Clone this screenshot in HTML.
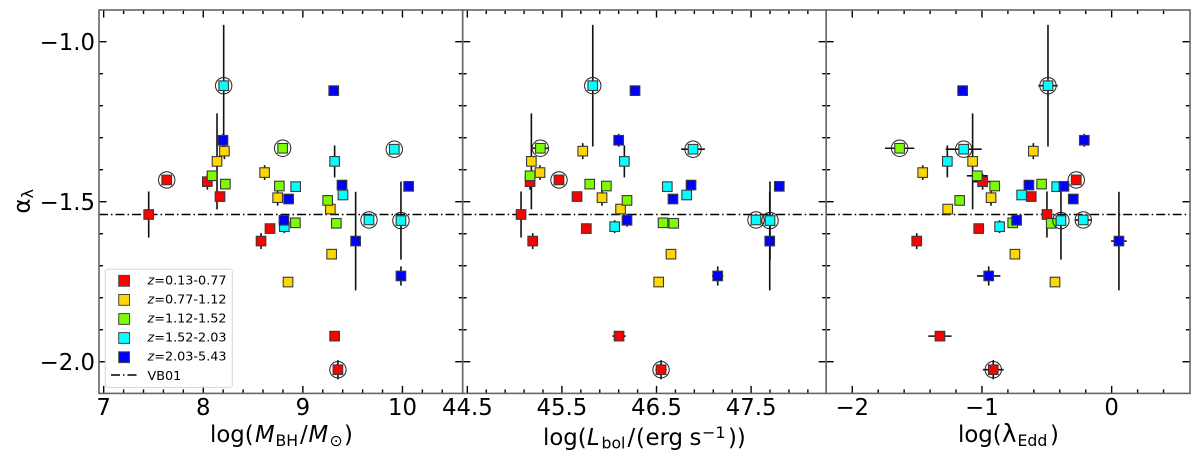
<!DOCTYPE html>
<html lang="en">
<head>
<meta charset="utf-8">
<title>Alpha lambda versus black hole mass, bolometric luminosity and Eddington ratio</title>
<style>
html,body{margin:0;padding:0;background:#fff;width:1200px;height:467px;overflow:hidden}
svg{display:block;filter:blur(0.35px)}
text{font-family:"DejaVu Sans","Liberation Sans",sans-serif;fill:#000}
</style>
</head>
<body>
<svg id="chart" xmlns="http://www.w3.org/2000/svg" width="1200" height="467" viewBox="0 0 1200 467">
  <rect x="0" y="0" width="1200" height="467" fill="#fff"/>
  <g id="marks"></g>
  <g id="axes"></g>

  <text transform="translate(29.5,213.5) rotate(-90)" font-size="22.8">α<tspan font-size="16" dy="3.5">λ</tspan></text>
  <text font-size="22.8"><tspan x="210" y="442">log(</tspan><tspan x="255" y="442" font-style="italic">M</tspan><tspan x="275.5" y="446" font-size="15.7">BH</tspan><tspan x="300" y="442">/</tspan><tspan x="308.5" y="442" font-style="italic">M</tspan><tspan x="329.5" y="446" font-size="15.7">⊙</tspan><tspan x="344" y="442">)</tspan></text>
  <text font-size="22.8"><tspan x="543" y="445">log(</tspan><tspan x="587" y="445" font-style="italic">L</tspan><tspan x="601.5" y="448.5" font-size="15.7">bol</tspan><tspan x="627.5" y="445">/</tspan><tspan x="636" y="445">(</tspan><tspan x="645.5" y="445">erg</tspan><tspan x="689.5" y="445">s</tspan><tspan x="702" y="437.8" font-size="16">−1</tspan><tspan x="728" y="445">))</tspan></text>
  <text font-size="22.8"><tspan x="958" y="442">log(</tspan><tspan x="1002" y="442" font-size="24.5">λ</tspan><tspan x="1017.5" y="446" font-size="15.7">Edd</tspan><tspan x="1050" y="442">)</tspan></text>

  <g>
    <rect x="105.3" y="269.2" width="127" height="118.2" rx="2.5" fill="#fff" fill-opacity="0.8" stroke="#d6d6d6" stroke-width="1"/>
    <g>
      <rect x="118.7" y="275.4" width="10.8" height="10.8" fill="#ff0000" stroke="#444" stroke-width="1"/>
      <text x="147.5" y="284.4" font-size="12.8"><tspan font-style="italic">z</tspan>=0.13-0.77</text>
    </g>
    <g>
      <rect x="118.7" y="294.5" width="10.8" height="10.8" fill="#ffd700" stroke="#444" stroke-width="1"/>
      <text x="147.5" y="303.4" font-size="12.8"><tspan font-style="italic">z</tspan>=0.77-1.12</text>
    </g>
    <g>
      <rect x="118.7" y="313.6" width="10.8" height="10.8" fill="#7cfc00" stroke="#444" stroke-width="1"/>
      <text x="147.5" y="322.5" font-size="12.8"><tspan font-style="italic">z</tspan>=1.12-1.52</text>
    </g>
    <g>
      <rect x="118.7" y="332.6" width="10.8" height="10.8" fill="#00ffff" stroke="#444" stroke-width="1"/>
      <text x="147.5" y="341.6" font-size="12.8"><tspan font-style="italic">z</tspan>=1.52-2.03</text>
    </g>
    <g>
      <rect x="118.7" y="351.8" width="10.8" height="10.8" fill="#0000ff" stroke="#444" stroke-width="1"/>
      <text x="147.5" y="360.7" font-size="12.8"><tspan font-style="italic">z</tspan>=2.03-5.43</text>
    </g>
    <g>
      <line x1="111" y1="375" x2="138" y2="375" stroke="#000" stroke-width="1.4" stroke-dasharray="9 3 1.5 3"/>
      <text x="147.5" y="380" font-size="12.8">VB01</text>
    </g>
  </g>
</svg>

<script>
// Reference value of the horizontal dash-dot line
const vb01Alpha = -1.54;

// Series index per point: 0 red, 1 yellow, 2 green, 3 cyan, 4 blue
const pointSeries = [0,0,0,0,0,0,0,0, 1,1,1,1,1,1,1, 2,2,2,2,2,2,2, 3,3,3,3,3,3,3,3, 4,4,4,4,4,4,4,4];
const alpha = [
  -1.432,-1.4375,-1.484,-1.54,-1.584,-1.623,-1.92,-2.025,
  -1.342,-1.374,-1.409,-1.4875,-1.523,-1.664,-1.751,
  -1.333,-1.419,-1.445,-1.451,-1.496,-1.566,-1.5675,
  -1.1375,-1.336,-1.374,-1.453,-1.559,-1.557,-1.479,-1.578,
  -1.153,-1.308,-1.448,-1.452,-1.4916,-1.558,-1.623,-1.732
];
const alphaErr = [
  0,0.025,0.012,0.072,0,0.025,0,0.03,
  0.025,0.15,0.023,0.025,0,0,0,
  0.005,0.01,0,0,0,0,0,
  0.19,0.015,0.05,0,0.122,0.01,0,0.02,
  0,0.02,0,0,0,0.02,0.154,0.03
];
const logMass = [
  7.633,8.041,8.168,7.452,8.67,8.58,9.319,9.352,
  8.212,8.138,8.616,8.747,9.276,9.289,8.851,
  8.797,8.088,8.222,8.764,9.249,8.925,9.336,
  8.205,9.918,9.319,8.928,9.985,9.664,9.403,8.814,
  9.31,8.198,9.393,10.062,8.857,8.81,9.53,9.985
];
const logMassErr = [
  0,0.03,0,0,0,0,0,0.02,
  0,0,0,0,0,0,0,
  0,0,0,0,0,0,0,
  0,0,0,0,0,0,0,0,
  0,0,0,0,0,0,0,0.02
];
const logLbol = [
  45.469,45.163,45.66,45.068,45.758,45.191,46.104,46.548,
  45.72,45.177,45.268,45.924,46.12,46.653,46.523,
  45.272,45.163,45.794,45.97,46.188,46.569,46.682,
  45.826,46.886,46.16,46.614,47.7,47.552,46.819,46.058,
  46.273,46.1,46.865,47.798,46.674,46.188,47.697,47.147
];
const logLbolErr = [
  0,0.02,0,0,0,0,0.07,0.06,
  0,0,0,0,0,0,0,
  0.08,0,0,0,0,0,0,
  0.05,0.125,0,0,0,0,0,0,
  0,0,0,0,0,0,0,0.06
];
const logEdd = [
  -0.273,-0.995,-0.62,-0.499,-1.025,-1.503,-1.324,-0.913,
  -0.604,-1.072,-1.457,-0.93,-1.264,-0.746,-0.437,
  -1.635,-1.036,-0.54,-0.902,-1.172,-0.763,-0.466,
  -0.491,-1.141,-1.267,-0.424,-0.391,-0.219,-0.694,-0.864,
  -1.149,-0.211,-0.638,-0.368,-0.296,-0.733,0.056,-0.948
];
const logEddErr = [
  0,0.07,0,0,0,0,0.09,0.08,
  0,0,0,0,0,0,0,
  0.113,0.08,0,0,0,0,0,
  0.075,0.139,0,0,0,0.06,0,0,
  0,0.04,0,0,0,0,0.06,0.09
];
const circled = [
  1,0,0,0,0,0,0,1,
  0,0,0,0,0,0,0,
  1,0,0,0,0,0,0,
  1,1,0,0,1,1,0,0,
  0,0,0,0,0,0,0,0
];

// Tick labels
const yTickLabels = ["−1.0","−1.5","−2.0"];
const yMajorValues = [-1.0,-1.5,-2.0];
const massTickLabels = ["7","8","9","10"];
const massTickValues = [7,8,9,10];
const lbolTickLabels = ["44.5","45.5","46.5","47.5"];
const lbolTickValues = [44.5,45.5,46.5,47.5];
const eddTickLabels = ["−2","−1","0"];
const eddTickValues = [-2,-1,0];

const seriesColors = ["#ff0000","#ffd700","#7cfc00","#00ffff","#0000ff"];
const seriesNames = ["z1","z2","z3","z4","z5"];

const SVG_NS = "http://www.w3.org/2000/svg";
const marksLayer = document.getElementById("marks");
const axesLayer = document.getElementById("axes");

function make(parent, tag, attrs) {
  const el = document.createElementNS(SVG_NS, tag);
  for (const k in attrs) el.setAttribute(k, attrs[k]);
  parent.appendChild(el);
  return el;
}

const plotTop = 10, plotBottom = 393.4;
const yDomainTop = -0.901, yDomainBottom = -2.099;
function yScale(v) {
  return plotTop + (yDomainTop - v) / (yDomainTop - yDomainBottom) * (plotBottom - plotTop);
}
function linearX(p, v) {
  return p.left + (v - p.min) / (p.max - p.min) * (p.right - p.left);
}

const panels = [
  {key:"mass", left:99, right:462.7, min:6.953, max:10.605, first:7, x:logMass, xe:logMassErr, ticks:massTickValues, labels:massTickLabels},
  {key:"lbol", left:462.7, right:826.2, min:44.451, max:48.294, first:44.5, x:logLbol, xe:logLbolErr, ticks:lbolTickValues, labels:lbolTickLabels},
  {key:"edd", left:826.2, right:1190, min:-2.201, max:0.604, first:-2, x:logEdd, xe:logEddErr, ticks:eddTickValues, labels:eddTickLabels}
];

const majorLen = 7.5, minorLen = 4;

panels.forEach(function (p) {
  const group = make(marksLayer, "g", {});
  
  

  // dash-dot reference line
  const refLine = make(group, "line", {x1:p.left, x2:p.right, y1:yScale(vb01Alpha), y2:yScale(vb01Alpha), stroke:"#000", "stroke-width":1.6, "stroke-dasharray":"9 3 1.5 3"});
  
  

  // error bars
  alpha.forEach(function (a, i) {
    const cx = linearX(p, p.x[i]), cy = yScale(a);
    if (alphaErr[i] > 0) {
      const ey = make(group, "line", {x1:cx, x2:cx, y1:yScale(a + alphaErr[i]), y2:yScale(a - alphaErr[i]), stroke:"#111", "stroke-width":1.6});
      
      
    }
    if (p.xe[i] > 0) {
      const ex = make(group, "line", {x1:linearX(p, p.x[i] - p.xe[i]), x2:linearX(p, p.x[i] + p.xe[i]), y1:cy, y2:cy, stroke:"#111", "stroke-width":1.6});
      
      
    }
  });

  // circles and square markers, later series on top
  alpha.forEach(function (a, i) {
    const cx = linearX(p, p.x[i]), cy = yScale(a);
    if (circled[i]) {
      const ring = make(group, "circle", {cx:cx, cy:cy, r:8.2, fill:"none", stroke:"#222", "stroke-width":1});
      
      
    }
    const sq = make(group, "rect", {x:cx - 4.8, y:cy - 4.8, width:9.6, height:9.6, fill:seriesColors[pointSeries[i]], stroke:"#3a3a3a", "stroke-width":1.1});
    
    
  });

  // axes frame
  const axisGroup = make(axesLayer, "g", {});
  
  

  const xMinor = make(axisGroup, "g", {stroke:"#000", "stroke-width":1.4});
  
  
  for (let k = 0; ; k++) {
    const v = p.first + k * 0.2;
    const x = linearX(p, v);
    if (x > p.right - 2) break;
    const isMajor = k % 5 === 0;
    const len = isMajor ? majorLen : minorLen;
    make(xMinor, "line", {x1:x, x2:x, y1:plotBottom, y2:plotBottom - len});
    make(xMinor, "line", {x1:x, x2:x, y1:plotTop, y2:plotTop + len});
  }

  const yTicks = make(axisGroup, "g", {stroke:"#000", "stroke-width":1.4});
  
  
  for (let k = 0; k <= 10; k++) {
    const v = -1 - k * 0.1;
    const y = yScale(v);
    const len = k % 5 === 0 ? majorLen : minorLen;
    make(yTicks, "line", {x1:p.left, x2:p.left + len, y1:y, y2:y});
    make(yTicks, "line", {x1:p.right, x2:p.right - len, y1:y, y2:y});
  }

  const frame = make(axisGroup, "rect", {x:p.left, y:plotTop, width:p.right - p.left, height:plotBottom - plotTop, fill:"none", stroke:"#666", "stroke-width":1.6});
  
  

  p.ticks.forEach(function (v, i) {
    const t = make(axisGroup, "text", {x:linearX(p, v), y:415, "text-anchor":"middle", "font-size":22.8});
    t.textContent = p.labels[i];
    
    
  });
});

yMajorValues.forEach(function (v, i) {
  const t = make(axesLayer, "text", {x:95, y:yScale(v) + 8.2, "text-anchor":"end", "font-size":22.8});
  t.textContent = yTickLabels[i];
  
  
});
</script>
</body>
</html>
